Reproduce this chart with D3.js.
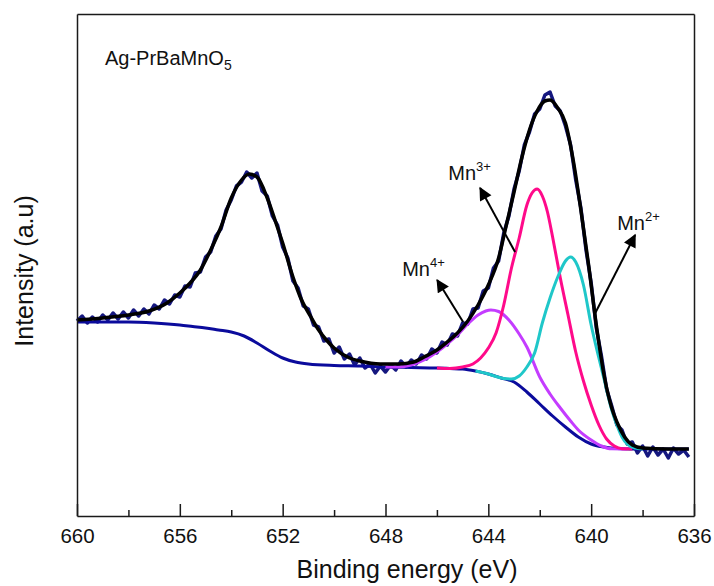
<!DOCTYPE html>
<html>
<head>
<meta charset="utf-8">
<script src="https://cdnjs.cloudflare.com/ajax/libs/d3/7.8.5/d3.min.js"></script>
<style>
  body { margin: 0; background: #fff; }
  svg { display: block; font-family: Arial, "Liberation Sans", sans-serif; }
</style>
</head>
<body>
<svg class="svg_xps" width="714" height="586"></svg>
<script>
/* Mn 2p XPS spectrum of Ag-PrBaMnO5, drawn with D3 v7 */

// measured spectrum [binding energy (eV), counts]
var rawData = [
  [660.0,1950],[659.8,2000],[659.6,1930],[659.4,1990],[659.2,1940],[659.0,2010],[658.8,1960],[658.6,2030],[658.4,1970],[658.2,2040],
  [658.0,1980],[657.8,2060],[657.6,2000],[657.4,2070],[657.2,2020],[657.0,2110],[656.8,2070],[656.6,2160],[656.4,2120],[656.2,2210],
  [656.0,2190],[655.8,2300],[655.6,2290],[655.4,2430],[655.2,2440],[655.0,2590],[654.8,2640],[654.6,2800],[654.4,2870],[654.2,3060],
  [654.0,3160],[653.8,3300],[653.6,3340],[653.4,3440],[653.2,3380],[653.0,3430],[652.8,3250],[652.6,3200],[652.4,3000],[652.2,2910],
  [652.0,2690],[651.8,2580],[651.6,2350],[651.4,2280],[651.2,2100],[651.0,2070],[650.8,1910],[650.6,1890],[650.4,1750],[650.2,1770],
  [650.0,1630],[649.8,1690],[649.6,1570],[649.4,1620],[649.2,1510],[649.0,1580],[648.8,1480],[648.6,1520],[648.4,1430],[648.2,1500],
  [648.0,1440],[647.8,1510],[647.6,1460],[647.4,1550],[647.2,1490],[647.0,1560],[646.8,1520],[646.6,1610],[646.4,1570],[646.2,1670],
  [646.0,1630],[645.8,1740],[645.6,1710],[645.4,1820],[645.2,1800],[645.0,1930],[644.8,1920],[644.6,2070],[644.4,2080],[644.2,2250],
  [644.0,2280],[643.8,2480],[643.6,2550],[643.4,2830],[643.2,3000],[643.0,3270],[642.8,3450],[642.6,3710],[642.4,3840],[642.2,4020],
  [642.0,4070],[641.8,4210],[641.6,4240],[641.4,4100],[641.2,4050],[641.0,3900],[640.8,3710],[640.6,3360],[640.4,3080],[640.2,2660],
  [640.0,2330],[639.8,1880],[639.6,1600],[639.4,1270],[639.2,1100],[639.0,910],[638.8,860],[638.6,720],[638.4,740],[638.2,630],
  [638.0,700],[637.8,600],[637.6,690],[637.4,610],[637.2,670],[637.0,580],[636.8,680],[636.6,620],[636.4,660],[636.2,590]
];

// fitted envelope
var envelope = [
  [660,1960],[659,1980],[658,2010],[657.2,2050],[656.5,2130],[656,2230],[655.6,2330],[655.2,2460],[654.8,2660],[654.4,2890],
  [654,3180],[653.6,3360],[653.3,3420],[653,3390],[652.6,3180],[652.3,2960],[652,2730],[651.6,2390],[651.3,2180],[650.9,1990],
  [650.6,1860],[650.3,1760],[650,1680],[649.4,1580],[649,1550],[648.2,1520],[647.5,1520],[646.9,1540],[646.5,1590],[646,1660],
  [645.6,1740],[645.2,1830],[644.8,1950],[644.4,2110],[644,2310],[643.6,2580],[643.3,2910],[643,3240],[642.7,3580],[642.4,3860],
  [642.1,4050],[641.8,4150],[641.6,4160],[641.3,4080],[641,3930],[640.7,3560],[640.4,3060],[640.1,2510],[639.8,1910],[639.5,1410],
  [639.2,1080],[639,940],[638.7,790],[638.4,710],[638,680],[637,670],[636.2,670]
];

// Shirley background
var background = [
  [660,1940],[658,1940],[657,1930],[656,1910],[655.5,1895],[655,1880],[654.5,1860],[654,1840],[653.5,1800],[653,1730],
  [652.5,1650],[652,1580],[651.5,1540],[651,1520],[650,1505],[649,1500],[648,1490],[647,1485],[646,1480],[645.5,1475],
  [645,1470],[644.5,1450],[644,1420],[643.5,1380],[643,1340],[642.5,1240],[642,1120],[641.5,1000],[641,890],[640.5,790],
  [640,720],[639.5,690],[639,675],[638,670],[636.2,670]
];

// fitted components (with background)
var mn4 = [
  [648,1490],[647.5,1490],[647,1510],[646.5,1560],[646,1640],[645.6,1720],[645.2,1810],[644.8,1920],[644.4,2010],[644.1,2050],
  [643.9,2060],[643.6,2045],[643.2,1960],[642.8,1820],[642.5,1690],[642,1390],[641.6,1220],[641.2,1080],[640.8,950],[640.5,860],
  [640,760],[639.6,700],[639.2,672],[638.6,670]
];
var mn3 = [
  [646,1480],[645.5,1475],[645,1490],[644.6,1520],[644.3,1580],[644,1680],[643.7,1830],[643.4,2110],[643.1,2480],[642.8,2780],
  [642.5,3110],[642.3,3230],[642.1,3270],[641.9,3200],[641.7,3040],[641.5,2790],[641.2,2380],[640.9,2010],[640.6,1640],[640.3,1350],
  [640,1110],[639.7,910],[639.4,770],[639.1,700],[638.8,672],[638.4,670]
];
var mn2 = [
  [644.5,1450],[644,1420],[643.7,1395],[643.4,1375],[643.1,1370],[642.8,1400],[642.5,1490],[642.2,1630],[641.9,1930],[641.6,2180],
  [641.3,2390],[641,2550],[640.8,2590],[640.6,2540],[640.3,2310],[640,1910],[639.7,1580],[639.5,1370],[639.2,1060],[639,910],
  [638.8,790],[638.6,720],[638.3,680],[638,670]
];

var xTicks = [660, 656, 652, 648, 644, 640, 636];
var xMinorTicks = [658, 654, 650, 646, 642, 638];

// peak labels: [label x (eV), label y (counts)], arrow tail, arrow head
var peakNames = ["4+", "3+", "2+"];
var peakLabelAt = [[647.35, 2400], [645.56, 3360], [638.99, 2860]];
var arrowFrom = [[644.98, 1940], [642.96, 2640], [639.84, 2030]];
var arrowTo = [[645.99, 2360], [644.32, 3280], [638.29, 2810]];

var svg = d3.select(".svg_xps"),
    margin = {top: 14, right: 20, bottom: 70, left: 77},
    width = +svg.attr("width") - margin.left - margin.right,
    height = +svg.attr("height") - margin.top - margin.bottom,
    g = svg.append("g").attr("transform", "translate(" + margin.left + "," + margin.top + ")");

var x = d3.scaleLinear().domain([660, 636]).range([0, width]),
    y = d3.scaleLinear().domain([0, 5020]).range([height, 0]);

var line = d3.line()
    .x(function(d) { return x(d[0]); })
    .y(function(d) { return y(d[1]); });
var smooth = d3.line()
    .curve(d3.curveMonotoneX)
    .x(function(d) { return x(d[0]); })
    .y(function(d) { return y(d[1]); });

// arrow head marker
svg.append("defs").append("marker")
    .attr("id", "head")
    .attr("viewBox", "0 0 10 10")
    .attr("refX", 9).attr("refY", 5)
    .attr("markerWidth", 7).attr("markerHeight", 6.5)
    .attr("markerUnits", "strokeWidth")
    .attr("orient", "auto")
  .append("path")
    .attr("d", "M0,0 L10,5 L0,10 z")
    .attr("fill", "#000");

// curves
g.append("path").datum(rawData)
    .attr("fill", "none").attr("stroke", "#15177f").attr("stroke-width", 3.5)
    .attr("stroke-linejoin", "round")
    .attr("d", line);

g.append("path").datum(background)
    .attr("fill", "none").attr("stroke", "#0b0b9c").attr("stroke-width", 3)
    .attr("d", smooth);

var comps = [
    {data: mn4, color: "#c43cff"},
    {data: mn3, color: "#ff0a8a"},
    {data: mn2, color: "#1fc7c9"}
];
g.selectAll(".comp").data(comps).enter().append("path")
    .attr("class", "comp")
    .attr("fill", "none")
    .attr("stroke", function(d) { return d.color; })
    .attr("stroke-width", 3)
    .attr("d", function(d) { return smooth(d.data); });

g.append("path").datum(envelope)
    .attr("fill", "none").attr("stroke", "#000").attr("stroke-width", 3.5)
    .attr("d", smooth);

// axes + frame
var frameColor = "#1a1a1a";
var xAxis = g.append("g")
    .attr("transform", "translate(0," + height + ")")
    .call(d3.axisBottom(x).tickValues(xTicks).tickSize(-12).tickSizeOuter(0).tickPadding(12)
        .tickFormat(d3.format("d")));
xAxis.selectAll("text").attr("font-size", 20.5).attr("fill", "#111").attr("font-family", null);
xAxis.selectAll("line").attr("stroke", frameColor).attr("stroke-width", 1.5);
xAxis.select(".domain").attr("stroke", frameColor).attr("stroke-width", 1.5);

var xMinor = g.append("g")
    .attr("transform", "translate(0," + height + ")")
    .call(d3.axisBottom(x).tickValues(xMinorTicks).tickSize(-6).tickSizeOuter(0).tickFormat(""));
xMinor.select(".domain").remove();
xMinor.selectAll("line").attr("stroke", frameColor).attr("stroke-width", 1.5);

g.append("g").call(d3.axisLeft(y).tickValues([]).tickSizeOuter(0))
    .select(".domain").attr("stroke", frameColor).attr("stroke-width", 1.5);
g.append("g").call(d3.axisTop(x).tickValues([]).tickSizeOuter(0))
    .select(".domain").attr("stroke", frameColor).attr("stroke-width", 1.5);
g.append("g").attr("transform", "translate(" + width + ",0)")
    .call(d3.axisRight(y).tickValues([]).tickSizeOuter(0))
    .select(".domain").attr("stroke", frameColor).attr("stroke-width", 1.5);

// axis titles
svg.append("text")
    .attr("x", 407)
    .attr("y", 578)
    .attr("text-anchor", "middle")
    .attr("font-size", 25)
    .attr("fill", "#111")
    .text("Binding energy (eV)");

svg.append("text")
    .attr("transform", "translate(33," + (margin.top + height / 2 + 6) + ") rotate(-90)")
    .attr("text-anchor", "middle")
    .attr("font-size", 25)
    .attr("fill", "#111")
    .text("Intensity (a.u)");

// sample name
var title = svg.append("text")
    .attr("x", 105).attr("y", 65)
    .attr("font-size", 20)
    .attr("fill", "#111");
title.append("tspan").text("Ag-PrBaMnO");
title.append("tspan").attr("font-size", 14).attr("dy", 5).text("5");

// arrows + peak labels
g.selectAll(".arrow").data(arrowFrom).enter().append("line")
    .attr("class", "arrow")
    .attr("x1", function(d) { return x(d[0]); })
    .attr("y1", function(d) { return y(d[1]); })
    .attr("x2", function(d, i) { return x(arrowTo[i][0]); })
    .attr("y2", function(d, i) { return y(arrowTo[i][1]); })
    .attr("stroke", "#000").attr("stroke-width", 2)
    .attr("marker-end", "url(#head)");

var labels = g.selectAll(".peak").data(peakLabelAt).enter().append("text")
    .attr("class", "peak")
    .attr("x", function(d) { return x(d[0]); })
    .attr("y", function(d) { return y(d[1]); })
    .attr("font-size", 20)
    .attr("fill", "#111");
labels.append("tspan").text("Mn");
labels.append("tspan").attr("font-size", 13).attr("dy", -9)
    .text(function(d, i) { return peakNames[i]; });
</script>
</body>
</html>
